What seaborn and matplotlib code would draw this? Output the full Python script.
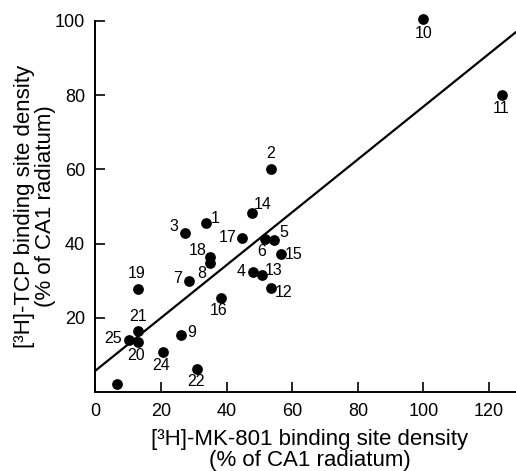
import matplotlib
matplotlib.use('Agg')
import matplotlib.pyplot as plt
import seaborn as sns
import pandas as pd

# region number, MK-801 density (x), TCP density (y)
region_ids = ['1', '2', '3', '4', '5', '6', '7', '8', '9', '10', '11', '12', '13',
              '14', '15', '16', '17', '18', '19', '20', '21', '22', '24', '25', '']
mk801 = [33.7, 53.4, 27.2, 48.0, 54.5, 51.8, 28.4, 34.8, 26.1, 99.9, 123.8, 53.4, 50.7,
         47.7, 56.6, 38.3, 44.8, 35.0, 13.1, 12.9, 13.0, 30.9, 20.6, 10.2, 6.5]
tcp = [45.5, 60.1, 42.8, 32.3, 41.0, 41.2, 29.9, 34.9, 15.5, 100.4, 80.1, 28.0, 31.5,
       48.2, 37.2, 25.4, 41.4, 36.5, 27.8, 13.4, 16.6, 6.2, 10.7, 14.1, 2.2]

# regression line as drawn
fit_intercept = 5.8
fit_slope = 0.711

x_ticks = [0, 20, 40, 60, 80, 100, 120]
y_ticks = [20, 40, 60, 80, 100]

# label offsets in pixels (dx, dy up)
label_offsets = {
    '1': (9, 5), '2': (0, 15), '3': (-11, 7), '4': (-12, 1), '5': (10, 7),
    '6': (-4, -12), '7': (-11, 3), '8': (-8, -11), '9': (11, 2), '10': (0, -14),
    '11': (-1, -14), '12': (13, -4), '13': (12, 5), '14': (11, 9), '15': (13, 0),
    '16': (-2, -13), '17': (-15, 1), '18': (-13, 6), '19': (-2, 15), '20': (-2, -13),
    '21': (0, 14), '22': (-1, -12), '24': (-2, -13), '25': (-16, 1),
}

df = pd.DataFrame({'region': region_ids, 'mk801': mk801, 'tcp': tcp})

sns.set_theme(style='ticks')
plt.rcParams['font.family'] = ['Liberation Sans', 'DejaVu Sans']

fig = plt.figure(figsize=(5.16, 4.71), dpi=100)
ax = fig.add_axes([0.1849, 0.1673, 0.8151, 0.7887])

xmax = 128.2
line_x = [0, xmax]
line_y = [fit_intercept + fit_slope * v for v in line_x]
sns.lineplot(x=line_x, y=line_y, ax=ax, color='black', linewidth=1.6)

sns.scatterplot(data=df, x='mk801', y='tcp', ax=ax, color='black', s=60,
                edgecolor='black', linewidth=0, clip_on=False, zorder=3)

for r, xv, yv in zip(region_ids, mk801, tcp):
    if not r:
        continue
    dx, dy = label_offsets[r]
    ax.annotate(r, (xv, yv), xytext=(dx, dy), textcoords='offset pixels',
                ha='center', va='center', fontsize=11.5, color='black',
                annotation_clip=False)

ax.set_xlim(0, xmax)
ax.set_ylim(0, 100)
ax.set_xticks(x_ticks)
ax.set_yticks(y_ticks)
ax.tick_params(direction='in', length=7, width=1.2, labelsize=13, colors='black', pad=7.5)
for side in ['top', 'right']:
    ax.spines[side].set_visible(False)
for side in ['left', 'bottom']:
    ax.spines[side].set_linewidth(1.4)
    ax.spines[side].set_color('black')

ax.set_xlabel('[³H]-MK-801 binding site density\n(% of CA1 radiatum)', fontsize=16,
              color='black', linespacing=1.0)
ax.set_ylabel('[³H]-TCP binding site density\n(% of CA1 radiatum)', fontsize=16,
              color='black', linespacing=1.0)
ax.xaxis.set_label_coords(0.51, -0.099)
ax.yaxis.set_label_coords(-0.094, 0.5)

fig.savefig('out.png', dpi=100, facecolor='white')
plt.close(fig)
